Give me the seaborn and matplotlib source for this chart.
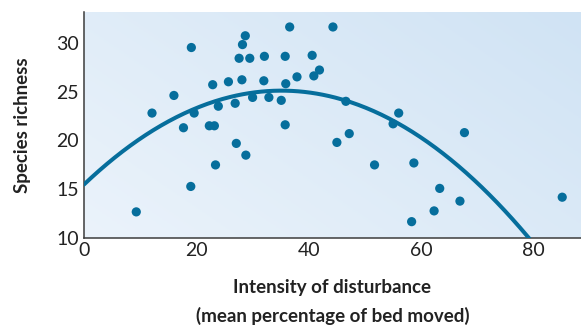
import numpy as np
import pandas as pd
import matplotlib
matplotlib.use("Agg")
import matplotlib.pyplot as plt
import seaborn as sns
from matplotlib.colors import LinearSegmentedColormap

# ---- data ----
disturbance = [9.3, 12.1, 16.0, 17.7, 19.1, 19.0, 19.6, 22.9, 22.3, 23.2,
               23.9, 23.4, 25.7, 26.9, 27.1, 27.6, 28.1, 28.2, 28.7, 28.8,
               29.5, 30.0, 32.1, 32.0, 32.9, 35.1, 35.8, 35.9, 35.8, 36.6,
               37.9, 44.3, 40.6, 40.9, 41.9, 46.6, 45.0, 47.2, 56.0, 55.0,
               51.7, 58.7, 67.7, 63.3, 66.9, 62.3, 58.3, 85.1]
richness = [12.7, 22.8, 24.6, 21.3, 29.5, 15.3, 22.8, 25.7, 21.5, 21.5,
            23.5, 17.5, 26.0, 23.8, 19.7, 28.4, 26.2, 29.8, 30.7, 18.5,
            28.4, 24.4, 28.6, 26.1, 24.4, 24.1, 28.6, 25.8, 21.6, 31.6,
            26.5, 31.6, 28.7, 26.6, 27.2, 24.0, 19.8, 20.7, 22.8, 21.7,
            17.5, 17.7, 20.8, 15.1, 13.8, 12.8, 11.7, 14.2]
# quadratic fit curve coefficients: richness = c0 + c1*x + c2*x^2
fit_coefs = [15.5, 0.546, -0.00777]
x_ticks = [0, 20, 40, 60, 80]
y_ticks = [10, 15, 20, 25, 30]

df = pd.DataFrame({"x": disturbance, "y": richness})
xs = np.linspace(0, 82, 300)
curve = pd.DataFrame({"x": xs, "y": fit_coefs[0] + fit_coefs[1] * xs + fit_coefs[2] * xs ** 2})

sns.set_theme(style="white")
plt.rcParams["font.family"] = ["Lato", "DejaVu Sans"]

blue = "#066e9c"
spine = "#3c3c3c"

fig = plt.figure(figsize=(5.81, 3.28), dpi=100)
ax = fig.add_axes([0.1446, 0.2735, 0.855, 0.689])

# background gradient
cmap = LinearSegmentedColormap.from_list("bg", ["#ebf3fb", "#d0e3f4"])
gx, gy = np.meshgrid(np.linspace(0, 1, 200), np.linspace(0, 1, 200))
grad = (gx * 0.6 + gy * 0.4)
ax.imshow(grad, cmap=cmap, extent=[0, 1, 0, 1], transform=ax.transAxes,
          origin="lower", aspect="auto", zorder=0, interpolation="bilinear")

sns.lineplot(data=curve, x="x", y="y", ax=ax, color=blue, linewidth=2.9, zorder=3)
sns.scatterplot(data=df, x="x", y="y", ax=ax, color=blue, s=44, edgecolor="none", zorder=4)

ax.set_xlim(0, 88.4)
ax.set_ylim(10, 33.1)
ax.set_xticks(x_ticks)
ax.set_xticks([10, 30, 50, 70], minor=True)
ax.set_yticks(y_ticks)
ax.set_xticklabels([str(t) for t in x_ticks])
ax.set_yticklabels([str(t) for t in y_ticks])

for s in ["top", "right"]:
    ax.spines[s].set_visible(False)
for s in ["left", "bottom"]:
    ax.spines[s].set_color(spine)
    ax.spines[s].set_linewidth(1.1)

ax.tick_params(axis="both", which="both", direction="in", length=4, width=1,
               color=spine, labelsize=14, labelcolor="#222222")
ax.tick_params(axis="y", which="major", pad=3.5)
ax.tick_params(axis="x", which="major", pad=3)

ax.set_xlabel("Intensity of disturbance\n(mean percentage of bed moved)",
              fontsize=13.5, fontweight="bold", color="#222222", labelpad=14,
              linespacing=1.75)
ax.set_ylabel("Species richness", fontsize=13.5, fontweight="bold",
              color="#222222", labelpad=18)

fig.savefig("out.png", dpi=100)
